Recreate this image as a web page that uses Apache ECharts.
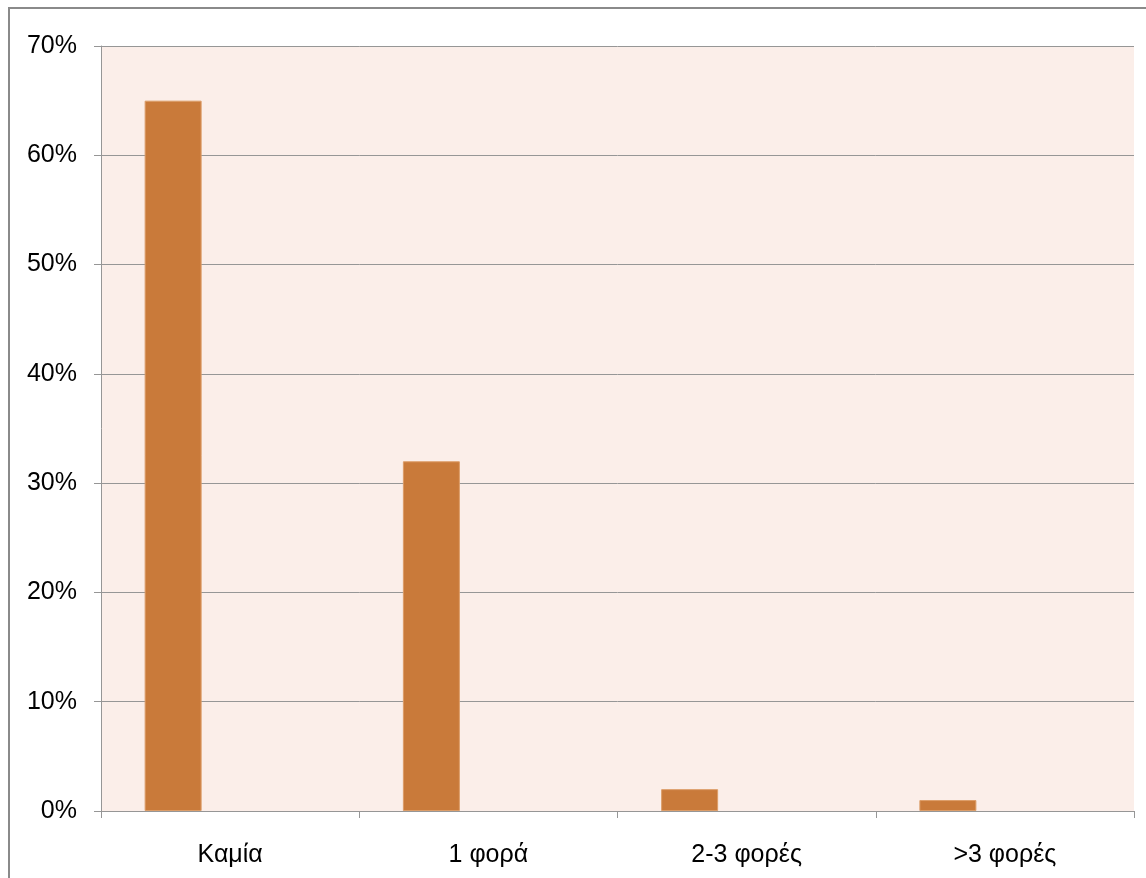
<!DOCTYPE html>
<html>
<head>
<meta charset="utf-8">
<script src="https://cdn.jsdelivr.net/npm/echarts@6/dist/echarts.min.js"></script>
<style>
  html, body { margin: 0; padding: 0; background: #ffffff; }
  #chart { width: 1146px; height: 878px; }
</style>
</head>
<body>
<div id="chart"></div>
<script>
// Answers: how many times (Καμία / 1 φορά / 2-3 φορές / >3 φορές), share in percent
const categories = ['Καμία', '1 φορά', '2-3 φορές', '>3 φορές'];
const shares = [65, 32, 2, 1];
const yTicks = [0, 10, 20, 30, 40, 50, 60, 70];

const chart = echarts.init(document.getElementById('chart'), null, { renderer: 'canvas' });

const labelFont = 'Liberation Sans, Arial, sans-serif';

chart.setOption({
  animation: false,
  backgroundColor: '#ffffff',
  grid: {
    left: 101, right: 12, top: 46, bottom: 67,
    show: true,
    backgroundColor: '#fbeee9',
    borderWidth: 0
  },
  graphic: [{
    type: 'rect',
    shape: { x: 9, y: 8, width: 1300, height: 1000 },
    style: { fill: 'none', stroke: '#8a8a8a', lineWidth: 2 },
    silent: true,
    z: 100
  }],
  xAxis: {
    type: 'category',
    data: categories,
    axisLine: { show: true, lineStyle: { color: '#969696', width: 1 } },
    axisTick: { show: true, length: 7, lineStyle: { color: '#969696' } },
    axisLabel: {
      color: '#000000',
      fontFamily: labelFont,
      fontSize: 25,
      margin: 32
    },
    splitLine: { show: false }
  },
  yAxis: {
    type: 'value',
    min: yTicks[0],
    max: yTicks[yTicks.length - 1],
    interval: 10,
    axisLine: { show: true, lineStyle: { color: '#969696', width: 1 } },
    axisTick: { show: true, length: 7, lineStyle: { color: '#969696' } },
    axisLabel: {
      color: '#000000',
      fontFamily: labelFont,
      fontSize: 25,
      margin: 24,
      formatter: v => v + '%'
    },
    splitLine: { show: true, lineStyle: { color: '#969696', width: 1 } }
  },
  series: [
    {
      type: 'bar',
      data: shares,
      barWidth: 57,
      barGap: '0%',
      itemStyle: { color: '#c97a3a', borderColor: '#dc9d68', borderWidth: 1 }
    },
    // empty companion slots keep the bars on the left of each category
    { type: 'bar', data: categories.map(() => null), barWidth: 57, barGap: '0%' },
    { type: 'bar', data: categories.map(() => null), barWidth: 57, barGap: '0%' }
  ]
});
</script>
</body>
</html>
